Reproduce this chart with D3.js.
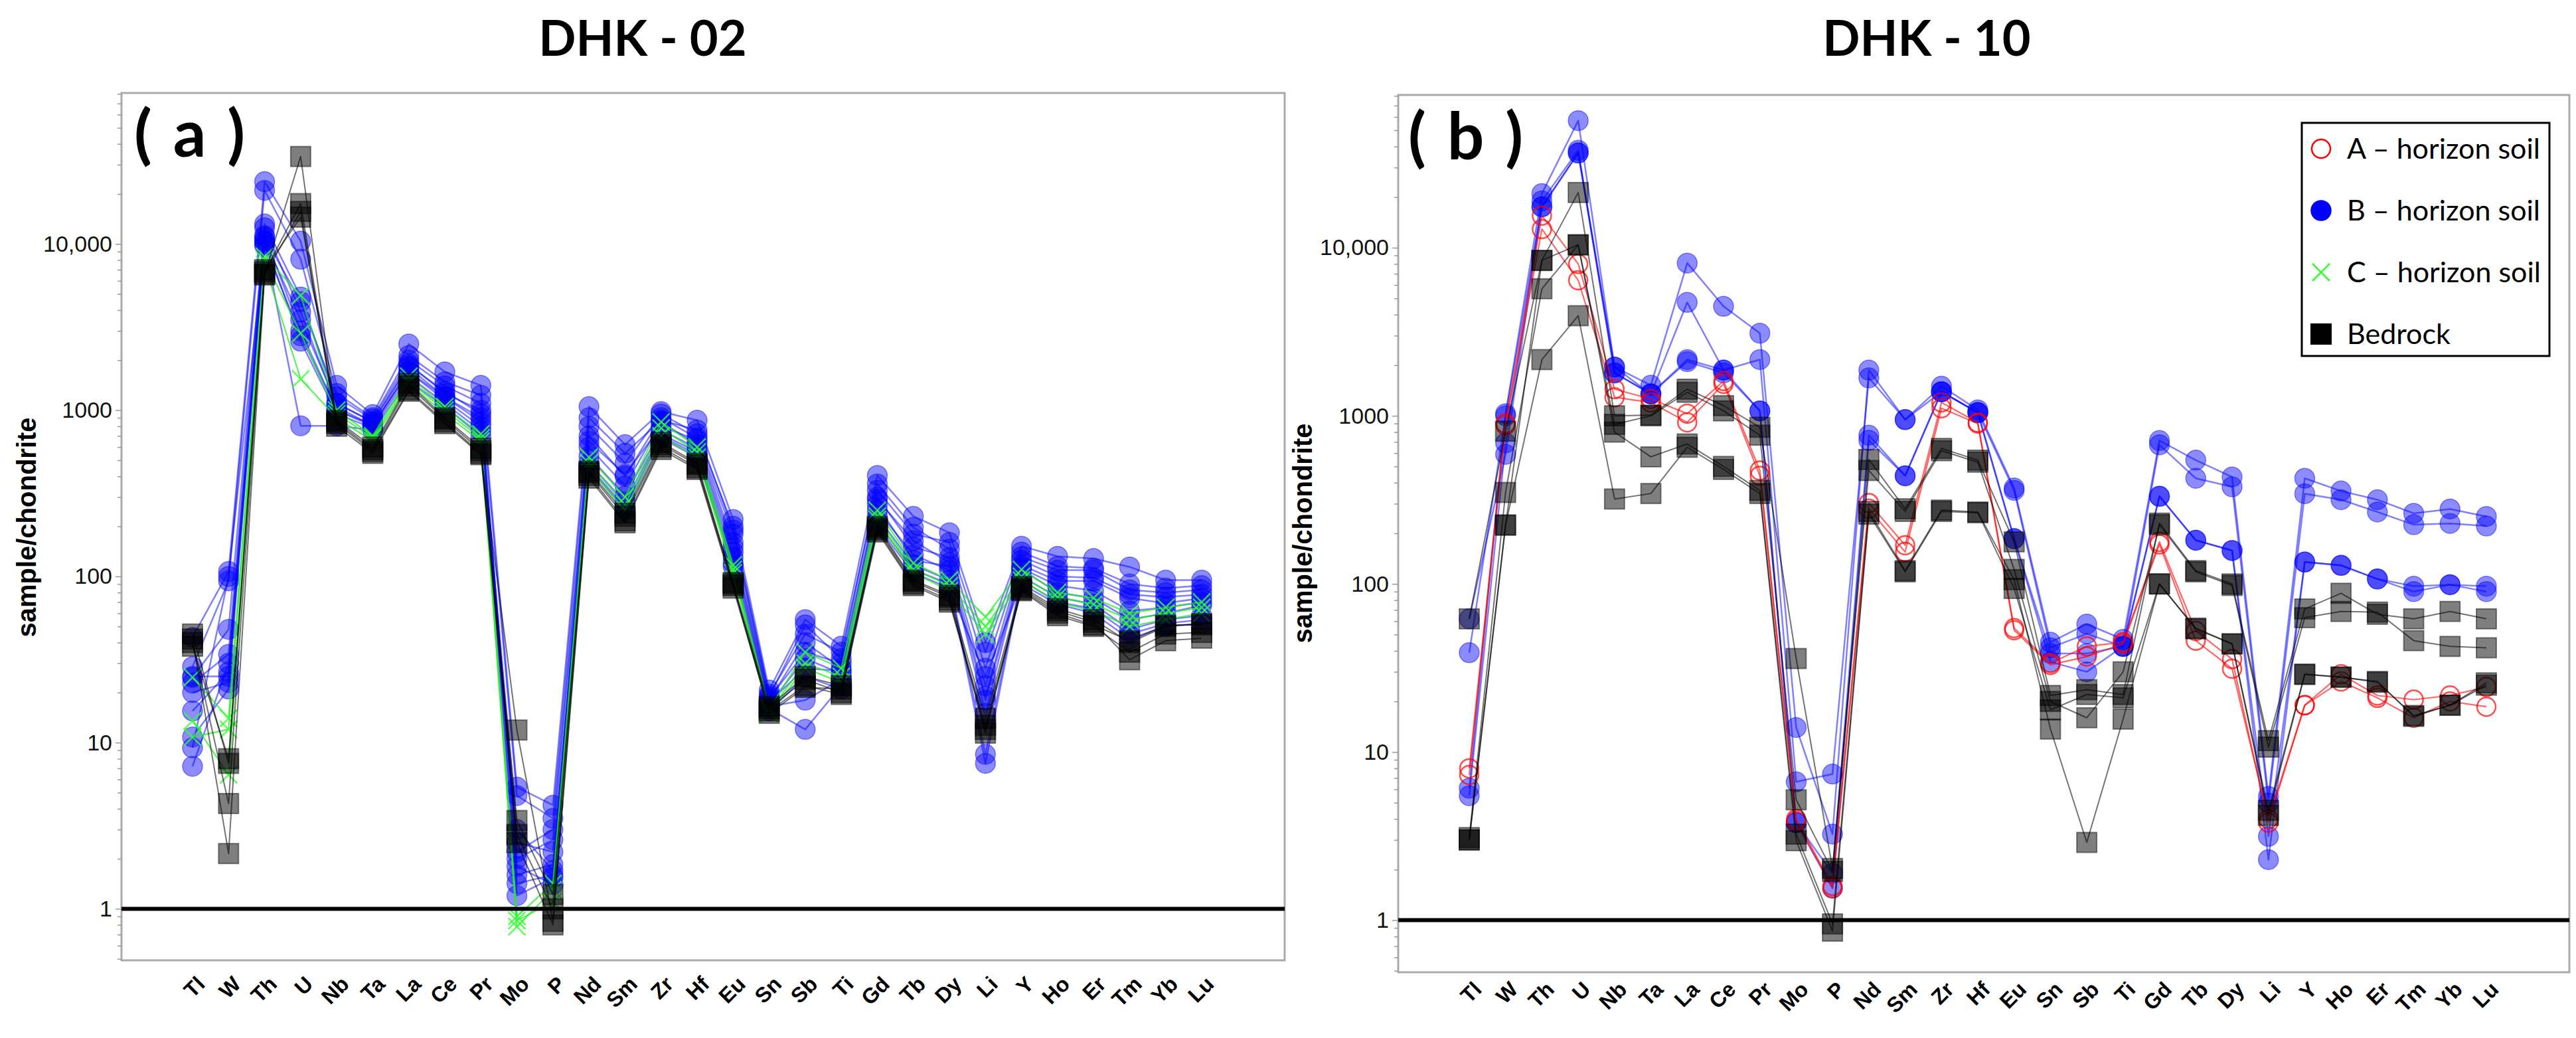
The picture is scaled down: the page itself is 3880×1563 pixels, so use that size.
<!DOCTYPE html>
<html>
<head>
<meta charset="utf-8">
<script src="https://cdn.jsdelivr.net/npm/d3@7/dist/d3.min.js"></script>
<style>
  html, body { margin: 0; padding: 0; background: #ffffff; }
  svg { display: block; }
</style>
</head>
<body>
<svg id="chart" width="3880" height="1563"></svg>
<script>
// ---------------- DATA ----------------
const elements = ["Tl","W","Th","U","Nb","Ta","La","Ce","Pr","Mo","P","Nd","Sm","Zr","Hf","Eu","Sn","Sb","Ti","Gd","Tb","Dy","Li","Y","Ho","Er","Tm","Yb","Lu"];
const yTickValues = [1, 10, 100, 1000, 10000];
const yTickLabels = ["1", "10", "100", "1000", "10,000"];
const panelTitles = ["DHK - 02", "DHK - 10"];
const panelTags = ["( a )", "( b )"];
const yAxisTitle = "sample/chondrite";
const legendLabels = ["A \u2013 horizon soil", "B \u2013 horizon soil", "C \u2013 horizon soil", "Bedrock"];

// Panel (a) DHK-02 : B-horizon soil samples
const dhk02_B = [
  [43, 107, 23700, 10400, 1410, 940, 2500, 1700, 1410, 5.4, 4.2, 1050, 620, 980, 870, 220, 20.7, 55, 38, 405, 230, 183, 40, 152, 132, 128, 114, 95, 95],
  [28.6, 94, 21000, 8100, 1260, 900, 2130, 1480, 1230, 4.8, 3.5, 900, 550, 870, 760, 190, 19, 51, 32, 360, 197, 146, 28, 131, 109, 109, 83, 80, 83],
  [24.7, 48, 13200, 4800, 1100, 850, 1900, 1260, 1000, 2.0, 2.6, 650, 410, 800, 660, 160, 18, 40, 28, 290, 164, 121, 19, 117, 94, 94, 74, 69, 74],
  [22.8, 34, 12500, 3900, 1050, 805, 1800, 1200, 900, 1.6, 1.85, 530, 305, 760, 590, 140, 17, 32, 26, 250, 135, 109, 18, 110, 80, 74, 55, 60, 67],
  [15.5, 26.6, 11200, 3000, 1000, 800, 1700, 1150, 800, 1.42, 1.6, 480, 280, 720, 560, 130, 16.5, 18, 24, 230, 117, 95, 8.5, 100, 75, 68, 48, 55, 58],
  [10.8, 21, 10400, 2600, 950, 780, 1600, 1100, 750, 1.2, 1.54, 460, 260, 700, 540, 120, 16, 12, 22, 210, 110, 90, 7.5, 95, 70, 64, 45, 52, 55],
  [9.3, 100, 10000, 805, 805, 760, 1500, 1050, 700, 2.5, 2.2, 450, 250, 680, 520, 115, 15.5, 25, 21, 200, 105, 85, 25, 90, 68, 60, 42, 50, 52],
  [7.2, 30, 11000, 4500, 1200, 880, 2000, 1400, 1100, 1.8, 1.4, 800, 480, 950, 720, 200, 19.5, 45, 35, 330, 180, 160, 35, 140, 115, 112, 90, 85, 88],
  [25, 25, 10500, 3500, 1100, 850, 1850, 1300, 950, 2.2, 3.0, 700, 400, 900, 680, 180, 18.5, 35, 30, 300, 150, 130, 22, 125, 100, 98, 78, 75, 78],
  [20, 23, 9800, 2800, 1000, 820, 1700, 1200, 850, 3.0, 1.7, 600, 350, 850, 620, 150, 17.5, 28, 27, 270, 125, 115, 15, 112, 88, 82, 62, 65, 70]
];
// Panel (a) DHK-02 : C-horizon soil samples
const dhk02_C = [
  [24.7, 14, 8400, 4900, 1000, 700, 1600, 1050, 720, 0.9, 1.42, 520, 300, 850, 600, 117, 16, 35, 28, 250, 120, 95, 57, 110, 80, 74, 60, 65, 70],
  [13.5, 6.4, 8000, 2900, 950, 680, 1500, 1000, 680, 0.78, 1.3, 480, 270, 780, 560, 110, 15.5, 30, 25, 230, 110, 88, 50, 100, 75, 68, 55, 60, 65],
  [10.8, 12, 7500, 1540, 900, 650, 1450, 950, 650, 0.85, 1.1, 450, 250, 700, 520, 105, 15, 28, 23, 220, 105, 82, 45, 95, 70, 62, 50, 55, 60]
];
// Panel (a) DHK-02 : bedrock samples
const dhk02_R = [
  [45, 7.5, 6600, 33600, 830, 565, 1330, 850, 550, 11.9, 0.84, 405, 216, 600, 450, 88, 16, 24, 20, 190, 90, 72, 12.7, 83, 60, 51, 41, 51, 51],
  [40, 4.3, 6800, 17500, 850, 580, 1400, 880, 570, 3.4, 1.22, 420, 230, 620, 470, 90, 15, 21.5, 21, 195, 93, 75, 11.4, 85, 62, 53, 31.5, 41, 42.5],
  [42, 2.15, 6500, 15700, 800, 550, 1300, 830, 540, 2.5, 0.8, 390, 210, 580, 440, 85, 15.5, 22, 19.5, 185, 88, 70, 12, 82, 58, 50, 35, 45, 46],
  [38, 8, 7000, 14500, 870, 600, 1450, 900, 590, 2.8, 1.0, 430, 240, 640, 480, 92, 16.5, 25, 22, 200, 95, 77, 14, 87, 64, 55, 40, 50, 52]
];

// Panel (b) DHK-10 : A-horizon soil samples
const dhk10_A = [
  [8, 900, 15500, 8000, 1440, 1260, 1030, 1610, 473, 4.0, 1.6, 303, 170, 1200, 912, 54.6, 33.8, 42.5, 45, 178, 52.5, 35.7, 3.8, 19, 29, 21.7, 20.5, 21.7, 24.4],
  [7.3, 880, 12900, 6400, 1290, 1200, 915, 1550, 440, 3.9, 1.55, 280, 155, 1110, 900, 53, 33, 37, 44, 172, 46, 31.3, 4.0, 19, 26.3, 21, 16, 20, 18.6]
];
// Panel (b) DHK-10 : B-horizon soil samples
const dhk10_B = [
  [6.1, 1030, 21000, 57000, 1950, 1520, 8100, 4480, 3100, 14, 3.25, 1870, 950, 1500, 1085, 372, 45, 57.7, 46.8, 713, 545, 433, 5.45, 425, 357, 317, 263, 279, 252],
  [5.5, 690, 19000, 38000, 1800, 1350, 4730, 1870, 2160, 6.65, 7.4, 1680, 950, 1390, 1045, 360, 41.7, 50.5, 42.5, 672, 425, 378, 4.98, 344, 317, 268, 225, 229, 221],
  [62, 590, 17500, 36600, 1800, 1350, 2160, 1870, 1070, 3.8, 1.9, 767, 440, 1390, 1045, 186, 38.6, 38.6, 42.5, 332, 182, 158, 3.15, 135, 129, 107, 97, 99, 97],
  [39, 1000, 17500, 36600, 1950, 1350, 2100, 1800, 1070, 3.8, 1.55, 715, 440, 1390, 1045, 186, 34.4, 30, 42.5, 332, 182, 158, 2.29, 135, 129, 107, 90, 99, 90]
];
// Panel (b) DHK-10 : bedrock samples
const dhk10_R = [
  [62, 810, 8400, 21300, 1000, 1010, 1440, 1150, 855, 36, 2.03, 550, 280, 640, 545, 178, 21.7, 23.5, 22, 230, 120, 100, 11.7, 71, 88, 66, 62, 68.6, 62],
  [3.1, 350, 5700, 10400, 890, 1000, 1380, 1070, 767, 5.2, 1.95, 473, 270, 620, 530, 122, 20, 16, 30, 225, 118, 98, 10.7, 63, 68.6, 68, 46, 42.5, 41.7],
  [3.0, 224, 8400, 10400, 800, 570, 680, 500, 360, 3.25, 0.95, 270, 120, 275, 268, 106, 13.7, 2.9, 15.7, 100, 54.6, 44, 4.2, 29, 27.8, 26.3, 16.3, 19, 25.8],
  [3.0, 224, 2160, 3940, 320, 345, 650, 480, 345, 2.97, 0.86, 260, 118, 270, 265, 94, 17.8, 22, 21, 100, 54, 44, 4.5, 29, 28, 26, 16.5, 19, 25]
];

// ---------------- STYLES ----------------
const styles = {
  A: { line: "#ff0000", lineOpacity: 0.6, lineWidth: 2.2 },
  B: { line: "#0000ff", lineOpacity: 0.5, lineWidth: 2.5 },
  C: { line: "#22ee22", lineOpacity: 0.75, lineWidth: 2.2 },
  R: { line: "#000000", lineOpacity: 0.55, lineWidth: 2 }
};

const svg = d3.select("#chart");
const labelFont = "'Liberation Sans', Arial, sans-serif";
const titleFont = "Lato, 'Open Sans', sans-serif";
const narrowFont = "'Liberation Sans Narrow', 'Arial Narrow', 'Liberation Sans', sans-serif";

function drawMarker(sel, kind, cx, cy, legend) {
  if (kind === "B") {
    sel.append("circle").attr("cx", cx).attr("cy", cy).attr("r", 15)
      .attr("fill", "#0000ff").attr("fill-opacity", legend ? 1 : 0.45)
      .attr("stroke", "#0000ff").attr("stroke-opacity", legend ? 1 : 0.45).attr("stroke-width", 1.5);
  } else if (kind === "A") {
    sel.append("circle").attr("cx", cx).attr("cy", cy).attr("r", 14)
      .attr("fill", "none").attr("stroke", "#ff0000").attr("stroke-opacity", legend ? 1 : 0.7).attr("stroke-width", 2.5);
  } else if (kind === "C") {
    const s = 13;
    sel.append("path")
      .attr("d", `M${cx - s},${cy - s}L${cx + s},${cy + s}M${cx - s},${cy + s}L${cx + s},${cy - s}`)
      .attr("stroke", "#33ff33").attr("stroke-width", 2.5).attr("stroke-opacity", legend ? 1 : 0.8).attr("fill", "none");
  } else {
    const s = 15;
    sel.append("rect").attr("x", cx - s).attr("y", cy - s).attr("width", 2 * s).attr("height", 2 * s)
      .attr("fill", "#000").attr("fill-opacity", legend ? 1 : 0.5)
      .attr("stroke", "#000").attr("stroke-opacity", legend ? 1 : 0.45).attr("stroke-width", 2);
  }
}

function drawPanel(cfg) {
  const { left, right, top, bottom, groups, idx, titleX, tagX, tagY, yLabelX, yLabelY, xLabelY } = cfg;
  const x = d3.scalePoint().domain(elements).range([left + 107, right - 125]);
  const y = d3.scaleLog().domain([0.49, 81000]).range([bottom, top]);
  const g = svg.append("g");

  // frame
  g.append("rect").attr("x", left).attr("y", top).attr("width", right - left).attr("height", bottom - top)
    .attr("fill", "none").attr("stroke", "#a9a9a9").attr("stroke-width", 3);

  // minor ticks
  const minor = [];
  [0.1, 1, 10, 100, 1000, 10000].forEach(d => { for (let k = 2; k <= 9; k++) { const v = k * d; if (v >= 0.5 && v <= 80000) minor.push(v); } });
  const minorAxis = g.append("g").attr("transform", `translate(${left},0)`)
    .call(d3.axisLeft(y).tickValues(minor).tickSize(6).tickFormat(""));
  minorAxis.select(".domain").remove();
  minorAxis.selectAll("line").attr("stroke", "#999").attr("stroke-width", 1.5);

  const majorAxis = g.append("g").attr("transform", `translate(${left},0)`)
    .call(d3.axisLeft(y).tickValues(yTickValues).tickSize(9).tickPadding(5).tickFormat((d, i) => yTickLabels[i]));
  majorAxis.select(".domain").remove();
  majorAxis.selectAll("line").attr("stroke", "#999").attr("stroke-width", 1.5);
  majorAxis.selectAll("text").attr("font-family", narrowFont).attr("font-size", 34).attr("fill", "#111");

  // x labels
  const xAxis = g.append("g").attr("transform", `translate(0,${xLabelY})`)
    .call(d3.axisBottom(x).tickSize(0).tickPadding(0));
  xAxis.select(".domain").remove();
  xAxis.selectAll("text")
    .attr("y", 0).attr("dy", "0.35em")
    .attr("transform", "translate(12,0) rotate(-45)")
    .attr("text-anchor", "end")
    .attr("font-family", labelFont).attr("font-weight", "bold").attr("font-size", 32).attr("fill", "#000");

  // data
  const line = d3.line().x((d, i) => x(elements[i])).y(d => y(d));
  groups.forEach(grp => {
    const st = styles[grp.kind];
    const gg = g.append("g");
    grp.data.forEach(series => {
      gg.append("path").attr("d", line(series)).attr("fill", "none")
        .attr("stroke", st.line).attr("stroke-opacity", st.lineOpacity).attr("stroke-width", st.lineWidth)
        .attr("stroke-linejoin", "round");
    });
    grp.data.forEach(series => {
      series.forEach((v, i) => drawMarker(gg, grp.kind, x(elements[i]), y(v), false));
    });
  });

  // reference line at 1
  g.append("line").attr("x1", left).attr("x2", right).attr("y1", y(1)).attr("y2", y(1))
    .attr("stroke", "#000").attr("stroke-width", 6);

  // title
  svg.append("text").attr("x", titleX).attr("y", 84).attr("text-anchor", "middle")
    .attr("font-family", titleFont).attr("font-weight", "bold").attr("font-size", 74).text(panelTitles[idx]);
  // tag
  svg.append("text").attr("x", tagX).attr("y", tagY)
    .attr("font-family", titleFont).attr("font-weight", "bold").attr("font-size", 98)
    .attr("word-spacing", 8)
    .style("white-space", "pre").text(panelTags[idx]);
  // y label
  svg.append("text").attr("transform", `translate(${yLabelX},${yLabelY}) rotate(-90)`)
    .attr("text-anchor", "middle").attr("dy", "0.35em")
    .attr("font-family", labelFont).attr("font-weight", "bold").attr("font-size", 40).text(yAxisTitle);

  return { x, y };
}

drawPanel({
  idx: 0, left: 183, right: 1935, top: 140, bottom: 1446,
  groups: [{ kind: "B", data: dhk02_B }, { kind: "C", data: dhk02_C }, { kind: "R", data: dhk02_R }],
  titleX: 968, tagX: 202, tagY: 236, yLabelX: 40, yLabelY: 794, xLabelY: 1476
});
drawPanel({
  idx: 1, left: 2106, right: 3870, top: 143, bottom: 1464,
  groups: [{ kind: "B", data: dhk10_B }, { kind: "A", data: dhk10_A }, { kind: "R", data: dhk10_R }],
  titleX: 2902, tagX: 2121, tagY: 240, yLabelX: 1962, yLabelY: 803, xLabelY: 1484
});

// legend (panel b)
const lg = svg.append("g");
lg.append("rect").attr("x", 3467).attr("y", 185).attr("width", 373).attr("height", 351)
  .attr("fill", "#fff").attr("stroke", "#000").attr("stroke-width", 3);
const legendKinds = ["A", "B", "C", "R"];
const legendY = d3.scalePoint().domain(legendKinds).range([224, 503]);
legendKinds.forEach((k, i) => {
  drawMarker(lg, k, 3496, legendY(k), true);
  lg.append("text").attr("x", 3535).attr("y", legendY(k)).attr("dy", "0.35em")
    .attr("font-family", titleFont).attr("font-size", 43).attr("fill", "#000").text(legendLabels[i]);
});
</script>
</body>
</html>
